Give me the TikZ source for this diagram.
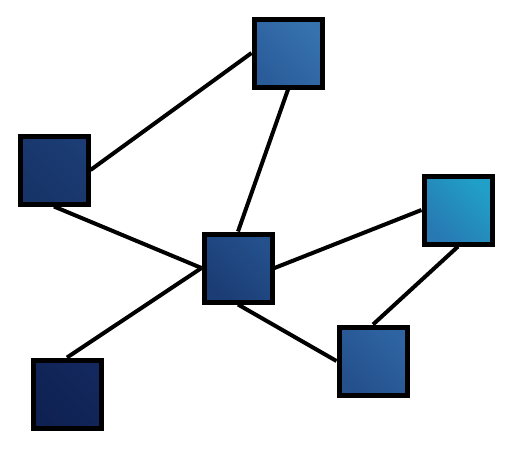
\documentclass[tikz,border=0pt]{standalone}
\usepackage{tikz}

\definecolor{navyA}{HTML}{0F2152}
\definecolor{navyB}{HTML}{13285E}
\definecolor{navyC}{HTML}{173468}
\definecolor{navyD}{HTML}{1B3C74}
\definecolor{blueA}{HTML}{24508C}
\definecolor{blueB}{HTML}{2E64A2}
\definecolor{blueC}{HTML}{2A5C9A}
\definecolor{blueD}{HTML}{3672AE}
\definecolor{cyanA}{HTML}{2878B2}
\definecolor{cyanB}{HTML}{20A0C8}

\tikzset{
  box/.style={draw=black, line width=5pt, minimum size=68pt, inner sep=0pt},
  link/.style={draw=black, line width=4pt}
}

\begin{document}
\begin{tikzpicture}[x=1pt,y=-1pt]
	\useasboundingbox (0,0) rectangle (513,463);
	\node[box, left color=blueC, right color=blueD, shading angle=135] (1) at (288,53) {};
	\node[box, left color=navyC, right color=navyD, shading angle=135] (2) at (54,170) {};
	\node[box, left color=cyanA, right color=cyanB, shading angle=135] (3) at (458,210) {};
	\node[box, left color=navyD, right color=blueA, shading angle=135] (4) at (238,268) {};
	\node[box, left color=blueA, right color=blueB, shading angle=135] (5) at (373,361) {};
	\node[box, left color=navyA, right color=navyB, shading angle=135] (6) at (67,394) {};
	
	\path[link]
	(2.east) edge (1.west)
	(4.north) edge (1.south)
	(4.west) edge (2.south)
	         edge (6.north)
	(4.east) edge (3.west)
	(4.south) edge (5.west)
	(3.south) edge (5.north);
\end{tikzpicture}
\end{document}
